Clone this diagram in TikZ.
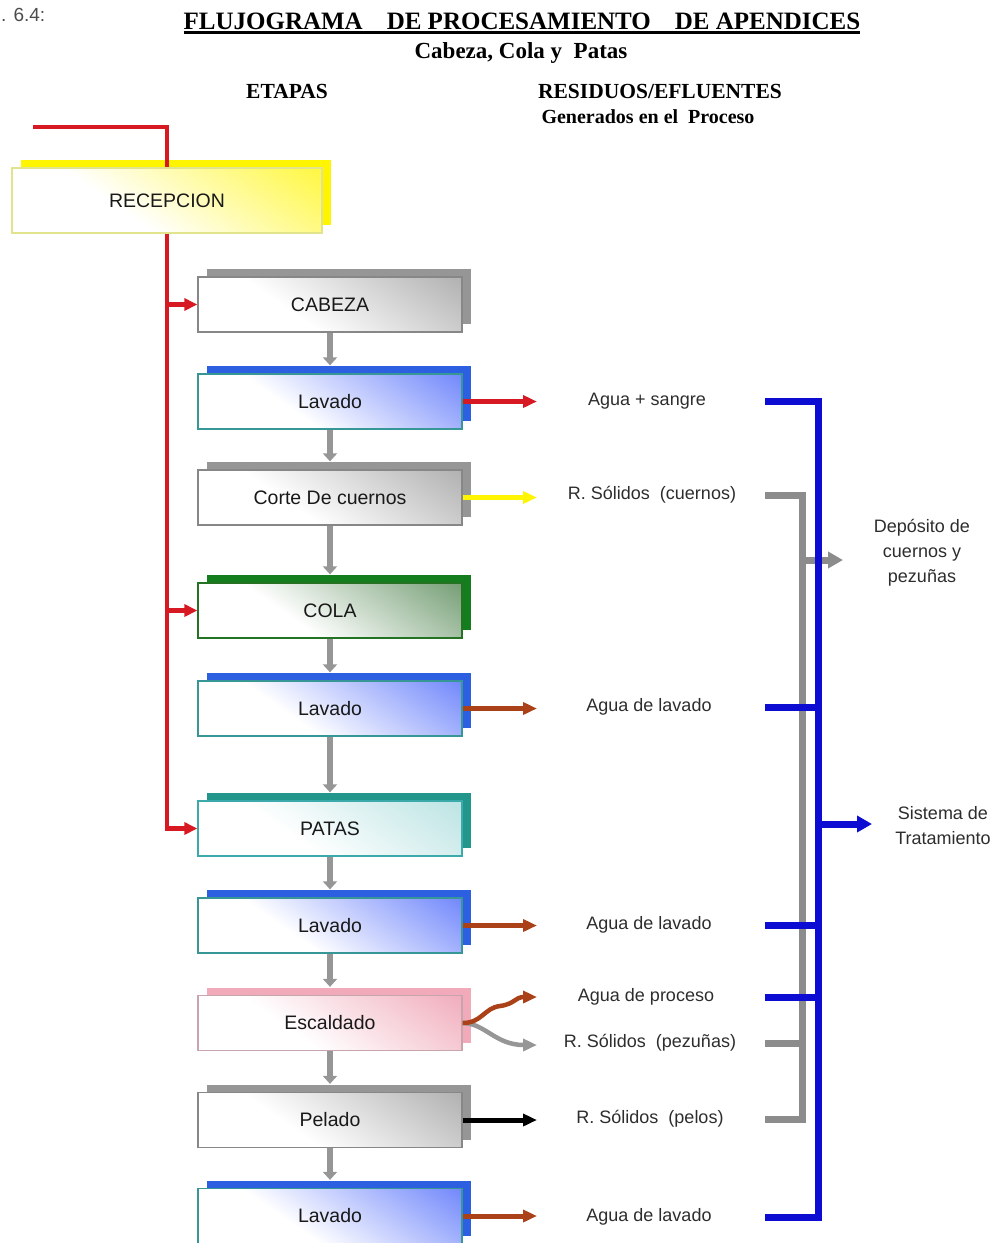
\documentclass[tikz,border=0pt]{standalone}
\usepackage{fontspec}
\setmainfont{Liberation Serif}
\setsansfont{Liberation Sans}
\usetikzlibrary{arrows.meta,shadows,calc}
\definecolor{cred}{RGB}{215,25,35}
\definecolor{cyel}{RGB}{255,245,0}
\definecolor{cyelb}{RGB}{225,228,140}
\definecolor{cgrays}{RGB}{150,150,150}
\definecolor{cgrayb}{RGB}{135,135,135}
\definecolor{cgrayf}{RGB}{150,150,150}
\definecolor{cblues}{RGB}{45,95,225}
\definecolor{cbluef}{RGB}{65,95,250}
\definecolor{ctealb}{RGB}{55,150,150}
\definecolor{cgreens}{RGB}{20,125,30}
\definecolor{cgreenb}{RGB}{35,115,35}
\definecolor{cgreenf}{RGB}{70,125,70}
\definecolor{cpats}{RGB}{35,150,140}
\definecolor{cpatb}{RGB}{60,170,170}
\definecolor{cpatf}{RGB}{165,218,218}
\definecolor{cpinks}{RGB}{240,170,185}
\definecolor{cpinkb}{RGB}{200,165,172}
\definecolor{cpinkf}{RGB}{236,145,165}
\definecolor{cbrown}{RGB}{170,65,25}
\definecolor{cbus}{RGB}{12,12,210}
\definecolor{cgbus}{RGB}{140,140,140}
\definecolor{ctext}{RGB}{25,25,25}
\definecolor{clbl}{RGB}{45,45,45}
\newcommand\mkshade[2]{\pgfdeclarehorizontalshading{sh#1}{100bp}{color(0bp)=(white); color(40bp)=(white); color(70bp)=(#2!50!white); color(100bp)=(#2)}}
\mkshade{yel}{cyel}
\mkshade{gray}{cgrayf}
\mkshade{blue}{cbluef}
\mkshade{green}{cgreenf}
\mkshade{pat}{cpatf}
\mkshade{pink}{cpinkf}
\newcommand\ulbold[1]{\setbox0=\hbox{#1}\rlap{\rule[-5pt]{\wd0}{2.6pt}}\box0}
\tikzset{
  stagebox/.style n args={3}{draw=#1, line width=1.3pt, shade, shading=#2, shading angle=55,
    general shadow={fill=#3, shadow xshift=9pt, shadow yshift=8pt},
    minimum width=264pt, minimum height=55pt, inner sep=0pt,
    font=\sffamily\fontsize{19.5}{22}\selectfont, text=ctext},
  head/.style={anchor=base, inner sep=0pt, font=\bfseries\fontsize{#1}{#1}\selectfont},
  lbl/.style={inner sep=0pt, font=\sffamily\fontsize{18}{25}\selectfont, text=clbl},
  redln/.style={draw=cred, line width=4.5pt},
  redarr/.style={redln, -{Triangle[length=13pt,width=12pt]}},
  downarr/.style={draw=cgrays, line width=6pt, -{Triangle[length=8pt,width=14pt]}},
  outarr/.style={line width=5pt, -{Triangle[length=14pt,width=12pt]}},
  busln/.style={draw=cbus, line width=7pt},
  gbusln/.style={draw=cgbus, line width=7pt},
}
\begin{document}
\begin{tikzpicture}[x=1pt,y=-1pt]
\useasboundingbox (0,0) rectangle (1000,1243);
\clip (0,0) rectangle (1000,1243);
% headings
\node[anchor=base west, inner sep=0pt, font=\sffamily\fontsize{19}{22}\selectfont, text=black!70] (fig) at (1,21) {. 6.4:};
\node[head=25] (title) at (522,29) {\ulbold{FLUJOGRAMA\hspace{24pt}DE PROCESAMIENTO\hspace{24pt}DE APENDICES}};
\node[head=23] (sub) at (521,58) {Cabeza, Cola y~ Patas};
\node[head=21.5] (etapas) at (287,98) {ETAPAS};
\node[head=21.5] (resid) at (660,98) {RESIDUOS/EFLUENTES};
\node[head=20] (gen) at (648,123) {Generados en el~ Proceso};
% stage boxes
\node[stagebox={cyelb}{shyel}{cyel}, minimum width=310pt, minimum height=65pt] (rec) at (167,200.5) {RECEPCION};
\node[stagebox={cgrayb}{shgray}{cgrays}] (cab) at (330,304.5) {CABEZA};
\node[stagebox={ctealb}{shblue}{cblues}] (lav1) at (330,401.5) {Lavado};
\node[stagebox={cgrayb}{shgray}{cgrays}] (corte) at (330,497.5) {Corte De cuernos};
\node[stagebox={cgreenb}{shgreen}{cgreens}] (cola) at (330,610.5) {COLA};
\node[stagebox={ctealb}{shblue}{cblues}] (lav2) at (330,708.5) {Lavado};
\node[stagebox={cpatb}{shpat}{cpats}] (patas) at (330,828.5) {PATAS};
\node[stagebox={ctealb}{shblue}{cblues}] (lav3) at (330,925.5) {Lavado};
\node[stagebox={cpinkb}{shpink}{cpinks}] (esc) at (330,1023) {Escaldado};
\node[stagebox={cgrayb}{shgray}{cgrays}] (pel) at (330,1120) {Pelado};
\node[stagebox={ctealb}{shblue}{cblues}] (lav4) at (330,1216) {Lavado};
% red feed lines
\coordinate (in) at (33,127);
\draw[redln] (in) -| (rec.north);
\draw[redarr] (rec.south) |- (patas.west);
\draw[redarr] (rec.south |- cab.west) -- (cab.west);
\draw[redarr] (rec.south |- cola.west) -- (cola.west);
% vertical flow
\draw[downarr] (cab.south) -- ([yshift=8pt]lav1.north);
\draw[downarr] (lav1.south) -- ([yshift=8pt]corte.north);
\draw[downarr] (corte.south) -- ([yshift=8pt]cola.north);
\draw[downarr] (cola.south) -- ([yshift=8pt]lav2.north);
\draw[downarr] (lav2.south) -- ([yshift=8pt]patas.north);
\draw[downarr] (patas.south) -- ([yshift=8pt]lav3.north);
\draw[downarr] (lav3.south) -- ([yshift=8pt]esc.north);
\draw[downarr] (esc.south) -- ([yshift=8pt]pel.north);
\draw[downarr] (pel.south) -- ([yshift=8pt]lav4.north);
% residue labels
\node[lbl] (l1) at (647,401) {Agua + sangre};
\node[lbl] (l2) at (652,495) {R. Sólidos~ (cuernos)};
\node[lbl] (l3) at (649,707) {Agua de lavado};
\node[lbl] (l4) at (649,925) {Agua de lavado};
\node[lbl] (l5) at (646,997) {Agua de proceso};
\node[lbl] (l6) at (650,1043) {R. Sólidos~ (pezuñas)};
\node[lbl] (l7) at (650,1119) {R. Sólidos~ (pelos)};
\node[lbl] (l8) at (649,1217) {Agua de lavado};
\node[lbl, align=center] (dep) at (922,553) {Depósito de\\cuernos y\\pezuñas};
\node[lbl, align=center] (sis) at (943,826) {Sistema de\\Tratamiento};
% outgoing arrows
\coordinate (colR) at (537,0);
\draw[outarr, cred] (lav1.east) -- (lav1.east -| colR);
\draw[outarr, cyel] (corte.east) -- (corte.east -| colR);
\draw[outarr, cbrown] (lav2.east) -- (lav2.east -| colR);
\draw[outarr, cbrown] (lav3.east) -- (lav3.east -| colR);
\draw[outarr, black] (pel.east) -- (pel.east -| colR);
\draw[outarr, cbrown] (lav4.east) -- (lav4.east -| colR);
\coordinate (escup) at (537,997);
\coordinate (escdn) at (537,1045);
\draw[outarr, cgrays, line width=4.5pt] (esc.east) .. controls (485,1023) and (495,1045) .. (escdn);
\draw[outarr, cbrown, line width=4.5pt] (esc.east) .. controls (482,1023) and (484,1008) .. (500,1006) .. controls (515,1004) and (515,997) .. (escup);
% grey collector (solids)
\coordinate (bx) at (765,0);
\coordinate (gbus) at (802,0);
\coordinate (dtip) at (843,560);
\draw[gbusln] (l2.east -| bx) -- (l2.east -| gbus) -- (l7.east -| gbus) -- (l7.east -| bx);
\draw[gbusln] (l6.east -| bx) -- (l6.east -| gbus);
\draw[gbusln, -{Triangle[length=15pt,width=16pt]}] (gbus |- dtip) -- (dtip);
% blue collector (effluents)
\coordinate (bus) at (818,0);
\coordinate (stip) at (872,824);
\draw[busln] (l1.east -| bx) -- (l1.east -| bus) -- (l8.east -| bus) -- (l8.east -| bx);
\draw[busln] (l3.east -| bx) -- (l3.east -| bus);
\draw[busln] (l4.east -| bx) -- (l4.east -| bus);
\draw[busln] (l5.east -| bx) -- (l5.east -| bus);
\draw[busln, -{Triangle[length=15pt,width=16pt]}] (bus |- stip) -- (stip);
\end{tikzpicture}
\end{document}
